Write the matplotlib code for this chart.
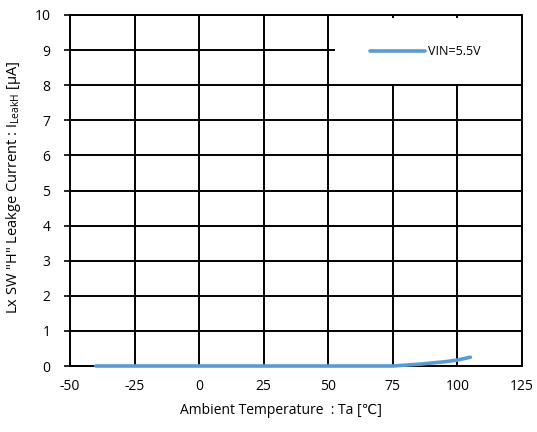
import matplotlib
matplotlib.use("Agg")
import matplotlib.pyplot as plt
from matplotlib.patches import Rectangle

temps = [-40, -25, 0, 25, 50, 75, 85, 95, 100, 105]
leak = [0.0, 0.0, 0.0, 0.0, 0.0, 0.0, 0.05, 0.12, 0.17, 0.25]
series_label = "VIN=5.5V"
xticks = [-50, -25, 0, 25, 50, 75, 100, 125]
yticks = list(range(0, 11))

plt.rcParams['font.family'] = ['Open Sans', 'DejaVu Sans']
plt.rcParams['mathtext.fontset'] = 'custom'
plt.rcParams['mathtext.rm'] = 'Open Sans'
plt.rcParams['mathtext.it'] = 'Open Sans:italic'
plt.rcParams['axes.unicode_minus'] = False

fig = plt.figure(figsize=(5.37, 4.32), dpi=100)
ax = fig.add_axes([70/537, 1-366/432, (522-70)/537, (366-15)/432])

ax.plot(temps, leak, color='#5B9BD5', lw=2.6, label=series_label, solid_capstyle='round', zorder=4,
        clip_on=False)
ax.set_xlim(-50, 125)
ax.set_ylim(0, 10)
ax.set_xticks(xticks)
ax.set_yticks(yticks)
ax.grid(True, color='black', lw=1.4)
ax.set_axisbelow(True)
for s in ax.spines.values():
    s.set_color('black')
    s.set_linewidth(1.4)
ax.tick_params(axis='both', labelsize=10, length=4, width=1.2, color='black')
ax.tick_params(axis='x', length=0, pad=9)
ax.tick_params(axis='y', pad=10)
ax.set_xlabel("Ambient Temperature  : Ta [℃]", fontsize=10)
ax.xaxis.set_label_coords(0.467, -0.105)
ax.set_ylabel(r'Lx SW "H" Leakge Current : I$_{\mathrm{LeakH}}$ [μA]', fontsize=10.5)
ax.yaxis.set_label_coords(-0.103, 0.51)

# white legend area
ax.add_patch(Rectangle((0.586, 0.803), 0.412, 0.189, transform=ax.transAxes,
                       facecolor='white', edgecolor='none', zorder=3))
leg = ax.legend(loc='center left', bbox_to_anchor=(0.664, 0.895), frameon=False, fontsize=9,
                handlelength=4.4, handletextpad=0.25, borderpad=0, borderaxespad=0)
leg.set_zorder(5)
fig.savefig("out.png", dpi=100)
